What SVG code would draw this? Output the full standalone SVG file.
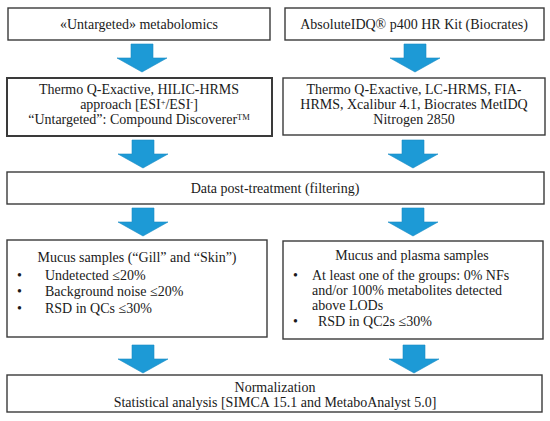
<svg xmlns="http://www.w3.org/2000/svg" width="550" height="421" viewBox="0 0 550 421">
<defs>
<style>
.box{fill:#fff;stroke:#3a3a3a;stroke-width:1.4}
.thick{stroke-width:2}
text{font-family:"Liberation Serif","Times New Roman",serif;font-size:14px;fill:#1a1a1a}
.c{text-anchor:middle}
.sup{font-size:8.5px;baseline-shift:4px}
.arr{fill:#1d9ad6;stroke:#1a8cc4;stroke-width:0.6}
</style>
<path id="arrow" d="M-11,0 H11 V14 H25 L0,28 L-25,14 H-11 Z"/>
</defs>
<rect width="550" height="421" fill="#fff"/>
<g id="connectors">
<use href="#arrow" class="arr" x="142" y="44"/>
<use href="#arrow" class="arr" x="415" y="44"/>
<use href="#arrow" class="arr" x="143" y="140"/>
<use href="#arrow" class="arr" x="413" y="140"/>
<use href="#arrow" class="arr" x="143" y="208"/>
<use href="#arrow" class="arr" x="413" y="208"/>
<use href="#arrow" class="arr" x="143" y="345"/>
<use href="#arrow" class="arr" x="414" y="345"/>
</g>
<g id="untargeted">
<rect class="box" x="8" y="8" width="262" height="32"/>
<text class="c" x="139" y="29">«Untargeted» metabolomics</text>
</g>
<g id="absoluteidq">
<rect class="box" x="285" y="8" width="259" height="32"/>
<text class="c" x="414" y="29">AbsoluteIDQ® p400 HR Kit (Biocrates)</text>
</g>
<g id="thermo-hilic">
<rect class="box thick" x="7" y="78" width="265" height="58"/>
<text class="c" x="139" y="94">Thermo Q-Exactive, HILIC-HRMS</text>
<text class="c" x="139" y="109">approach [ESI<tspan class="sup">+</tspan>/ESI<tspan class="sup">-</tspan>]</text>
<text class="c" x="139" y="124">“Untargeted”: Compound Discoverer<tspan class="sup">TM</tspan></text>
</g>
<g id="thermo-lc">
<rect class="box" x="283" y="78" width="262" height="57"/>
<text class="c" x="414" y="94">Thermo Q-Exactive, LC-HRMS, FIA-</text>
<text class="c" x="414" y="109">HRMS, Xcalibur 4.1, Biocrates MetIDQ</text>
<text class="c" x="414" y="124">Nitrogen 2850</text>
</g>
<g id="post-treatment">
<rect class="box" x="7" y="172" width="537" height="32"/>
<text class="c" x="275" y="193">Data post-treatment (filtering)</text>
</g>
<g id="mucus">
<rect class="box" x="7" y="240" width="260" height="97"/>
<text class="c" x="137" y="262">Mucus samples (“Gill” and “Skin”)</text>
<text x="17" y="280">•</text><text x="45" y="280">Undetected ≤20%</text>
<text x="17" y="296">•</text><text x="45" y="296">Background noise ≤20%</text>
<text x="17" y="313">•</text><text x="45" y="313">RSD in QCs ≤30%</text>
</g>
<g id="mucus-plasma">
<rect class="box" x="283" y="241" width="260" height="98"/>
<text class="c" x="412" y="260">Mucus and plasma samples</text>
<text x="293" y="280">•</text><text x="312" y="280">At least one of the groups: 0% NFs</text>
<text x="312" y="295">and/or 100% metabolites detected</text>
<text x="312" y="310">above LODs</text>
<text x="293" y="326">•</text><text x="318" y="326">RSD in QC2s ≤30%</text>
</g>
<g id="normalization">
<rect class="box" x="7" y="375" width="535" height="37"/>
<text class="c" x="275" y="392">Normalization</text>
<text class="c" x="275" y="407">Statistical analysis [SIMCA 15.1 and MetaboAnalyst 5.0]</text>
</g>
</svg>
